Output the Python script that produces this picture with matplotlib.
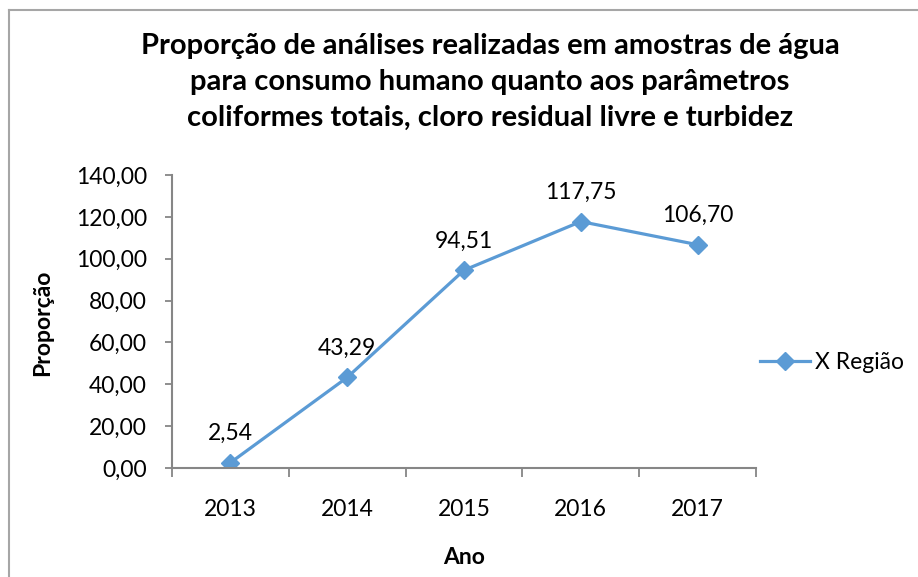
import matplotlib
matplotlib.use("Agg")
import matplotlib.pyplot as plt
from matplotlib.lines import Line2D

anos = ["2013", "2014", "2015", "2016", "2017"]
proporcao = [2.54, 43.29, 94.51, 117.75, 106.70]
serie = "X Região"

plt.rcParams['font.family'] = ['Lato', 'DejaVu Sans']

W, H = 918, 577
fig = plt.figure(figsize=(W / 100, H / 100), dpi=100)

# moldura cinza (só topo e esquerda aparecem no recorte)
fig.add_artist(Line2D([9 / W, 9 / W], [0, 1 - 10 / H], transform=fig.transFigure,
                      color="#a6a6a6", lw=1.5))
fig.add_artist(Line2D([9 / W, 1], [1 - 10 / H, 1 - 10 / H], transform=fig.transFigure,
                      color="#a6a6a6", lw=1.5))

ax = fig.add_axes([172 / W, 1 - 468 / H, (756 - 172) / W, (468 - 175) / H])

x = list(range(len(anos)))
azul = "#5b9bd5"
ax.plot(x, proporcao, color=azul, lw=2.3, marker="D", markersize=9, label=serie)

for xi, v in zip(x, proporcao):
    ax.annotate(f"{v:.2f}".replace(".", ","), (xi, v), xytext=(0, 21),
                textcoords="offset points", ha="center", va="center", fontsize=16.5)

ax.set_xlim(-0.5, len(anos) - 0.5)
ax.set_ylim(0, 140)
ax.set_yticks(range(0, 141, 20))
ax.set_yticklabels([f"{v},00" for v in range(0, 141, 20)], fontsize=16.5)

ax.set_xticks([i - 0.5 for i in range(len(anos) + 1)])
ax.set_xticklabels([])
ax.set_xticks(x, minor=True)
ax.set_xticklabels(anos, minor=True, fontsize=16.5)
ax.tick_params(axis="x", which="minor", length=0, pad=22)
ax.tick_params(axis="x", which="major", length=6.5, width=1.3, color="#868686")
ax.tick_params(axis="y", length=5, width=1.3, color="#868686", pad=13)

for s in ["top", "right"]:
    ax.spines[s].set_visible(False)
for s in ["left", "bottom"]:
    ax.spines[s].set_color("#868686")
    ax.spines[s].set_linewidth(1.5)

ax.set_xlabel("Ano", fontsize=16.5, fontweight="bold", va="center")
ax.xaxis.set_label_coords(464 / W, 1 - 557 / H, transform=fig.transFigure)
ax.set_ylabel("Proporção", fontsize=16.5, fontweight="bold", va="center")
ax.yaxis.set_label_coords(43 / W, 1 - 323 / H, transform=fig.transFigure)

ax.legend(loc="center left", bbox_to_anchor=(1.0 - 12 / 584, 0.36),
          frameon=False, fontsize=16.5, handlelength=2.2, handletextpad=0.2,
          borderaxespad=0.3)

fig.text(490 / W, 1 - 82 / H,
         "Proporção de análises realizadas em amostras de água\n"
         "para consumo humano quanto aos parâmetros\n"
         "coliformes totais, cloro residual livre e turbidez",
         ha="center", va="center", fontsize=21, fontweight="bold", linespacing=1.48)

fig.savefig("out.png", dpi=100)
